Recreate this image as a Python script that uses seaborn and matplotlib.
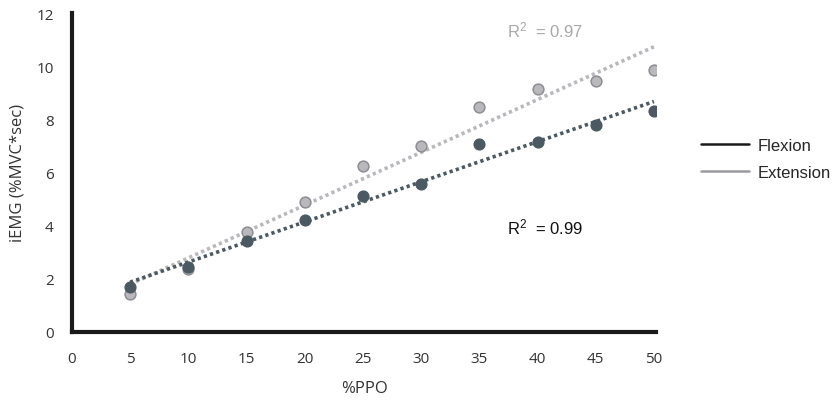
import numpy as np
import pandas as pd
import seaborn as sns
from matplotlib import pyplot as plt
from matplotlib.lines import Line2D

# %PPO levels
ppo = [5, 10, 15, 20, 25, 30, 35, 40, 45, 50]
# iEMG (%MVC*sec)
flexion = [1.68, 2.45, 3.42, 4.2, 5.1, 5.56, 7.06, 7.14, 7.8, 8.3]
extension = [1.42, 2.36, 3.77, 4.9, 6.23, 7.0, 8.47, 9.14, 9.45, 9.86]

r2_labels = {'Extension': '0.97', 'Flexion': '0.99'}

dark = '#4b5962'
light = '#b8b8bd'

sns.set_style('white')
plt.rcParams['font.family'] = ['Open Sans', 'DejaVu Sans']

df = pd.DataFrame({'ppo': ppo, 'flexion': flexion, 'extension': extension})

fig = plt.figure(figsize=(8.36, 4.02), dpi=100)
ax = fig.add_axes([0.086, 0.172, 0.699, 0.793])

sns.regplot(data=df, x='ppo', y='extension', ax=ax, ci=None, truncate=True,
            scatter_kws={'s': 60, 'color': light, 'edgecolor': '#8e8e92',
                         'linewidths': 1.1, 'alpha': 1, 'zorder': 3},
            line_kws={'color': light, 'lw': 2.6, 'ls': (0, (0.9, 0.9)), 'zorder': 2})
sns.regplot(data=df, x='ppo', y='flexion', ax=ax, ci=None, truncate=True,
            scatter_kws={'s': 60, 'color': dark, 'edgecolor': dark,
                         'linewidths': 1, 'alpha': 1, 'zorder': 4},
            line_kws={'color': dark, 'lw': 2.6, 'ls': (0, (0.9, 0.9)), 'zorder': 5})

ax.set_xlim(0, 50.2)
ax.set_ylim(0, 12)
ax.set_xticks(range(0, 51, 5))
ax.set_yticks(range(0, 13, 2))
ax.tick_params(axis='x', length=0, labelsize=11, colors='#333333', pad=14)
ax.tick_params(axis='y', length=0, labelsize=11, colors='#333333', pad=13)
ax.set_xlabel('%PPO', fontsize=12, color='#333333', labelpad=10)
ax.set_ylabel('iEMG (%MVC*sec)', fontsize=12, color='#333333', labelpad=8)

for side in ['top', 'right']:
    ax.spines[side].set_visible(False)
for side in ['left', 'bottom']:
    ax.spines[side].set_linewidth(3)
    ax.spines[side].set_color('#1a1a1a')

ax.text(37.4, 11.4, '$\\mathregular{R^2}$  = ' + r2_labels['Extension'], color='#a8a8a8',
        fontsize=12, family='Liberation Sans', va='center')
ax.text(37.4, 3.95, '$\\mathregular{R^2}$  = ' + r2_labels['Flexion'], color='#111111',
        fontsize=12, family='Liberation Sans', va='center')

handles = [Line2D([], [], color='#1a1a1a', lw=1.8),
           Line2D([], [], color='#9a9aa0', lw=1.8)]
fig.legend(handles, ['Flexion', 'Extension'], loc='center left',
           bbox_to_anchor=(0.8385, 0.602), frameon=False, handlelength=2.9,
           handletextpad=0.5, borderpad=0, borderaxespad=0,
           prop={'family': 'Liberation Sans', 'size': 12}, labelspacing=0.75)

fig.savefig('out.png', dpi=100)
